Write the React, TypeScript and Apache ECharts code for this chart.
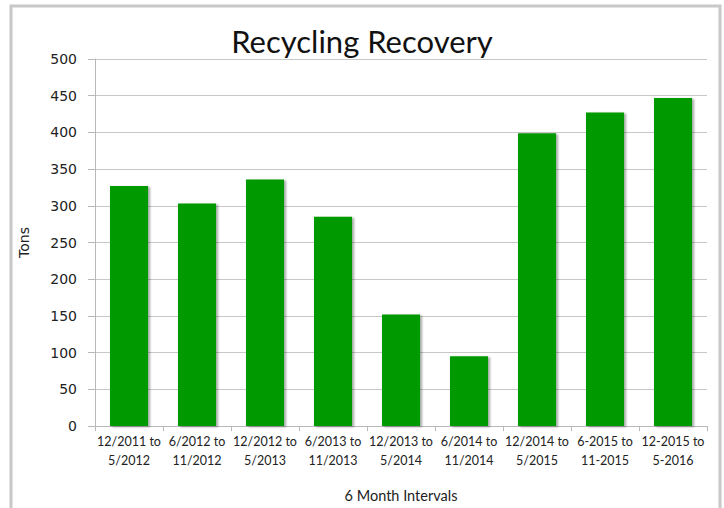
import React, { useEffect, useRef } from "react";
import * as echarts from "echarts";

const categories = [
  "12/2011 to\n5/2012",
  "6/2012 to\n11/2012",
  "12/2012 to\n5/2013",
  "6/2013 to\n11/2013",
  "12/2013 to\n5/2014",
  "6/2014 to\n11/2014",
  "12/2014 to\n5/2015",
  "6-2015 to\n11-2015",
  "12-2015 to\n5-2016",
];
const tons = [327, 303, 336, 285, 152, 95, 399, 427, 447];

export default function App() {
  const ref = useRef<HTMLDivElement>(null);
  useEffect(() => {
    document.body.style.margin = "0";
    const chart = echarts.init(ref.current!, undefined, { renderer: "svg" });
    chart.setOption({
      animation: false,
      backgroundColor: "#ffffff",
      title: {
        text: "Recycling Recovery",
        left: "center",
        top: 20,
        textStyle: { fontFamily: "Lato", fontSize: 31, fontWeight: "normal", color: "#111" },
      },
      graphic: [
        {
          type: "rect",
          shape: { x: 11, y: 6, width: 709, height: 520 },
          style: { fill: "none", stroke: "#c8c8c8", lineWidth: 3 },
          silent: true,
        },
      ],
      grid: { left: 95, right: 17, top: 59, bottom: 79, containLabel: false },
      xAxis: {
        type: "category",
        data: categories,
        name: "6 Month Intervals",
        nameLocation: "middle",
        nameGap: 62,
        nameTextStyle: { fontFamily: "Lato", fontSize: 14.5, color: "#222" },
        axisLine: { lineStyle: { color: "#b8b8b8", width: 1 } },
        axisTick: { show: true, length: 5, lineStyle: { color: "#b8b8b8" } },
        axisLabel: {
          fontFamily: "Lato",
          fontSize: 12.5,
          color: "#222",
          lineHeight: 19,
          margin: 6,
          interval: 0,
        },
      },
      yAxis: {
        type: "value",
        min: 0,
        max: 500,
        interval: 50,
        name: "Tons",
        nameLocation: "middle",
        nameGap: 64,
        nameTextStyle: { fontFamily: "DejaVu Sans", fontSize: 14, color: "#222" },
        axisLine: { show: true, lineStyle: { color: "#b8b8b8", width: 1 } },
        axisTick: { show: true, length: 7, lineStyle: { color: "#b8b8b8" } },
        axisLabel: { fontFamily: "DejaVu Sans", fontSize: 14, color: "#222", margin: 18 },
        splitLine: { lineStyle: { color: "#c8c8c8", width: 1 } },
      },
      series: [
        {
          type: "bar",
          data: tons,
          barCategoryGap: "44%",
          itemStyle: {
            color: "#009900",
            shadowColor: "rgba(0,0,0,0.35)",
            shadowBlur: 2,
            shadowOffsetX: 2,
            shadowOffsetY: 1,
          },
        },
      ],
    });
    return () => chart.dispose();
  }, []);
  return <div ref={ref} style={{ width: 724, height: 508 }} />;
}
